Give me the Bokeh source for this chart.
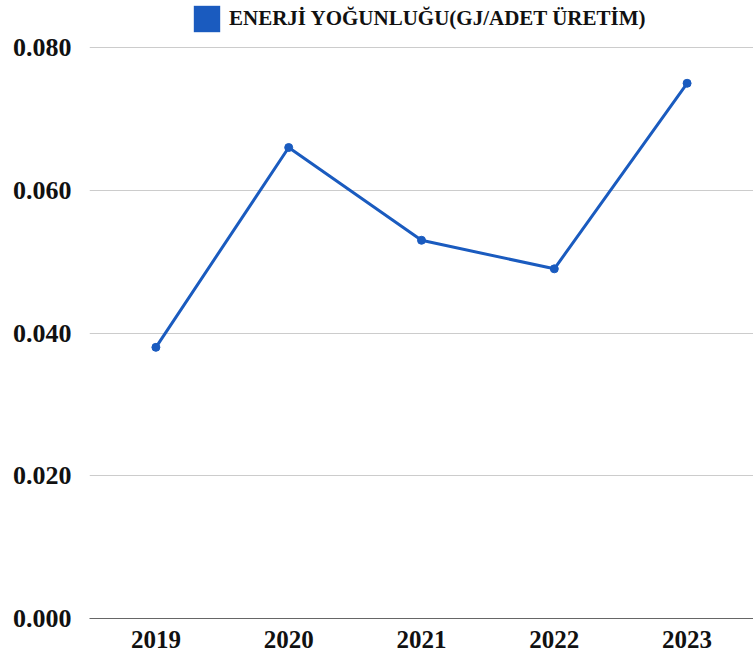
from bokeh.plotting import figure
from bokeh.models import (Range1d, FixedTicker, NumeralTickFormatter, Legend, LegendItem,
                          ColumnDataSource)
from bokeh.embed import file_html
from bokeh.resources import INLINE

years = ["2019", "2020", "2021", "2022", "2023"]
intensity = [0.038, 0.066, 0.053, 0.049, 0.075]
y_ticks = [0.0, 0.02, 0.04, 0.06, 0.08]
series_name = "ENERJİ YOĞUNLUĞU(GJ/ADET ÜRETİM)"

BLUE = "#1a5bbf"
FONT = "Liberation Serif"

p = figure(x_range=years, y_range=Range1d(0, 0.0866), width=753, height=651,
           output_backend="svg", toolbar_location=None,
           min_border_left=89, min_border_right=0, min_border_top=0, min_border_bottom=33)
p.outline_line_color = None
p.background_fill_color = "white"

src = ColumnDataSource(dict(year=years, val=intensity))
ln = p.line("year", "val", source=src, line_color=BLUE, line_width=3)
pts = p.scatter("year", "val", source=src, size=8, fill_color=BLUE, line_color=BLUE)

# hidden bar renderer used only for the legend swatch
sw = p.vbar(x="year", top="val", source=src, width=0.5, fill_color=BLUE, line_color=None,
            visible=False)

legend = Legend(items=[LegendItem(label=series_name, renderers=[sw])],
                location=(101, 583), orientation="horizontal",
                glyph_width=33, glyph_height=33, label_standoff=6,
                padding=0, margin=0, border_line_color=None,
                background_fill_alpha=0, inactive_fill_alpha=0,
                click_policy="none",
                label_text_font=FONT, label_text_font_style="bold",
                label_text_font_size="21px", label_text_color="#111111")
p.add_layout(legend)

p.yaxis.ticker = FixedTicker(ticks=y_ticks)
p.yaxis.formatter = NumeralTickFormatter(format="0.000")
p.yaxis.axis_line_color = None
p.yaxis.major_tick_line_color = None
p.yaxis.minor_tick_line_color = None
p.yaxis.major_label_standoff = 12
p.yaxis.major_label_text_font = FONT
p.yaxis.major_label_text_font_style = "bold"
p.yaxis.major_label_text_font_size = "26px"
p.yaxis.major_label_text_color = "#111111"

p.xaxis.axis_line_color = "#666666"
p.xaxis.axis_line_width = 1
p.xaxis.major_tick_line_color = None
p.xaxis.minor_tick_line_color = None
p.xaxis.major_label_standoff = 6
p.xaxis.major_label_text_font = FONT
p.xaxis.major_label_text_font_style = "bold"
p.xaxis.major_label_text_font_size = "25px"
p.xaxis.major_label_text_color = "#111111"

p.xgrid.grid_line_color = None
p.ygrid.ticker = FixedTicker(ticks=y_ticks)
p.ygrid.grid_line_color = "#cccccc"
p.ygrid.grid_line_width = 1

open("out.html", "w").write(file_html(p, INLINE))
